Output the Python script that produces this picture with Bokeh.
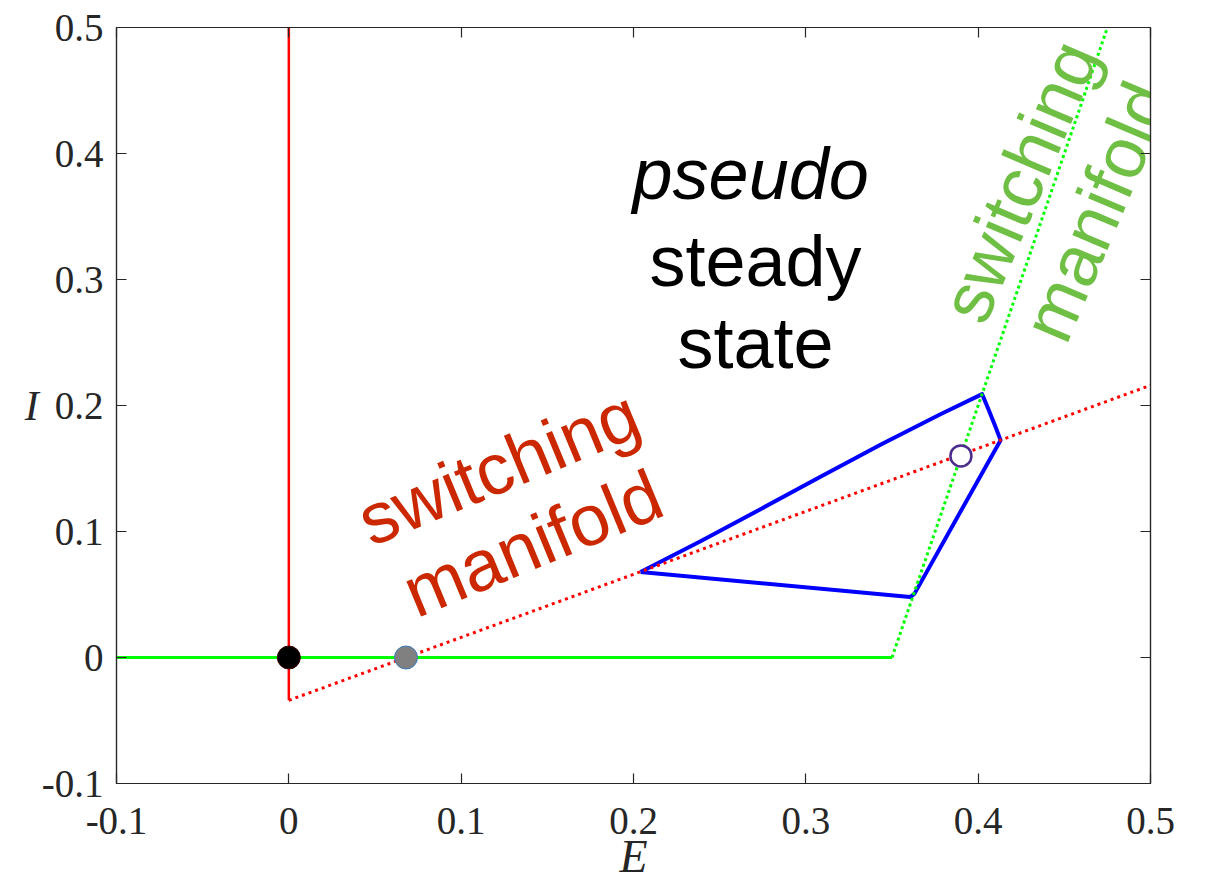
from bokeh.plotting import figure
from bokeh.models import Range1d, LinearAxis, FixedTicker
from bokeh.core.properties import value
from bokeh.embed import file_html
from bokeh.resources import INLINE

# ---- data ----
x_ticks = [-0.1, 0, 0.1, 0.2, 0.3, 0.4, 0.5]
x_tick_labels = ["-0.1", "0", "0.1", "0.2", "0.3", "0.4", "0.5"]
y_ticks = [-0.1, 0, 0.1, 0.2, 0.3, 0.4, 0.5]
y_tick_labels = ["-0.1", "0", "0.1", "0.2", "0.3", "0.4", "0.5"]

red_nullcline_E = [0.0, 0.0]
red_nullcline_I = [-0.034, 0.5]
red_switch_E = [0.0, 0.5]
red_switch_I = [-0.034, 0.216]

green_nullcline_E = [-0.1, 0.35]
green_nullcline_I = [0.0, 0.0]
green_switch_E = [0.35, 0.475]
green_switch_I = [0.0, 0.5]

cycle_E = [0.2041, 0.2389, 0.2737, 0.3085, 0.3433, 0.3781, 0.4023, 0.4062, 0.4101,
           0.4130, 0.3630, 0.3605, 0.2041]
cycle_I = [0.0679, 0.0923, 0.1177, 0.1435, 0.1689, 0.1931, 0.2090, 0.1963, 0.1830,
           0.1725, 0.0505, 0.0480, 0.0679]

origin_E = [0.0]
origin_I = [0.0]
gray_E = [0.068]
gray_I = [0.0]
pseudo_E = [0.390]
pseudo_I = [0.160]

x_label = "E"
y_label = "I"

AX = "#262626"

p = figure(width=1206, height=886, output_backend="svg", toolbar_location=None,
           x_range=Range1d(-0.1, 0.5), y_range=Range1d(-0.1, 0.5),
           min_border_left=116, min_border_right=56, min_border_top=27,
           min_border_bottom=103, x_axis_location=None, y_axis_location=None)
p.grid.visible = False
p.outline_line_color = AX
p.outline_line_width = 1.2
p.background_fill_color = "white"
p.border_fill_color = "white"

def make_axis(ticks, labels, show_labels):
    ax = LinearAxis(ticker=FixedTicker(ticks=ticks))
    if show_labels:
        ax.major_label_overrides = {t: l for t, l in zip(ticks, labels)}
        ax.major_label_text_font_size = "39px"
    else:
        ax.major_label_overrides = {t: "" for t in ticks}
        ax.major_label_text_font_size = "10px"
        ax.major_label_standoff = 0
    ax.major_tick_in = 10
    ax.major_tick_out = 0
    ax.minor_tick_line_color = None
    ax.axis_line_color = AX
    ax.axis_line_width = 1.2
    ax.major_tick_line_color = AX
    ax.major_tick_line_width = 1.2
    ax.major_label_text_font = "Liberation Serif"
    ax.major_label_text_color = AX
    return ax

bx = make_axis(x_ticks, x_tick_labels, True)
bx.major_label_standoff = 24
bx.axis_label = x_label
bx.axis_label_text_font = "Liberation Serif"
bx.axis_label_text_font_style = "italic"
bx.axis_label_text_font_size = "46px"
bx.axis_label_text_color = AX
bx.axis_label_standoff = -6

ly = make_axis(y_ticks, y_tick_labels, True)
ly.major_label_standoff = 13
ly.axis_label = y_label
ly.axis_label_orientation = "horizontal"
ly.axis_label_text_font = "Liberation Serif"
ly.axis_label_text_font_style = "italic"
ly.axis_label_text_font_size = "42px"
ly.axis_label_text_color = AX
ly.axis_label_standoff = 0

tx = make_axis(x_ticks, x_tick_labels, False)
ry = make_axis(y_ticks, y_tick_labels, False)
p.add_layout(bx, "below")
p.add_layout(ly, "left")
p.add_layout(tx, "above")
p.add_layout(ry, "right")

# lines
p.line(green_nullcline_E, green_nullcline_I, line_color="#00FF00", line_width=3)
p.line(red_nullcline_E, red_nullcline_I, line_color="#FF0000", line_width=2.5)
p.line(cycle_E, cycle_I, line_color="#0000FF", line_width=4, line_join="round")
p.line(red_switch_E, red_switch_I, line_color="#FF0000", line_width=3, line_dash="3 4")
p.line(green_switch_E, green_switch_I, line_color="#00FF00", line_width=3, line_dash="3 3")

# points
p.scatter(origin_E, origin_I, size=23, fill_color="black", line_color="#400000", line_width=1)
p.scatter(gray_E, gray_I, size=23, fill_color="#808080", line_color="#3A7CC0", line_width=1)
p.scatter(pseudo_E, pseudo_I, size=21, fill_color="white", line_color="#4B2C8C", line_width=2.5)

# texts
SANS = value("Liberation Sans")
p.text(x=[0.268], y=[0.3835], text=["pseudo"], text_font=SANS, text_font_size="72px",
       text_font_style="italic", text_color="black", text_align="center",
       text_baseline="alphabetic")
p.text(x=[0.2708, 0.2708], y=[0.3145, 0.2494], text=["steady", "state"], text_font=SANS,
       text_font_size="72px", text_color="black", text_align="center",
       text_baseline="alphabetic")
p.text(x=[0.1217, 0.1414], y=[0.151, 0.0907], text=["switching", "manifold"],
       text_font=SANS, text_font_size="72px", text_color="#CB2800", angle=0.393,
       text_align="center", text_baseline="middle")
p.text(x=[0.424, 0.4687], y=[0.378, 0.354], text=["switching", "manifold"],
       text_font=SANS, text_font_size="72px", text_color="#6EBF44", angle=1.169,
       text_align="center", text_baseline="middle")

open("out.html", "w").write(file_html(p, INLINE))
